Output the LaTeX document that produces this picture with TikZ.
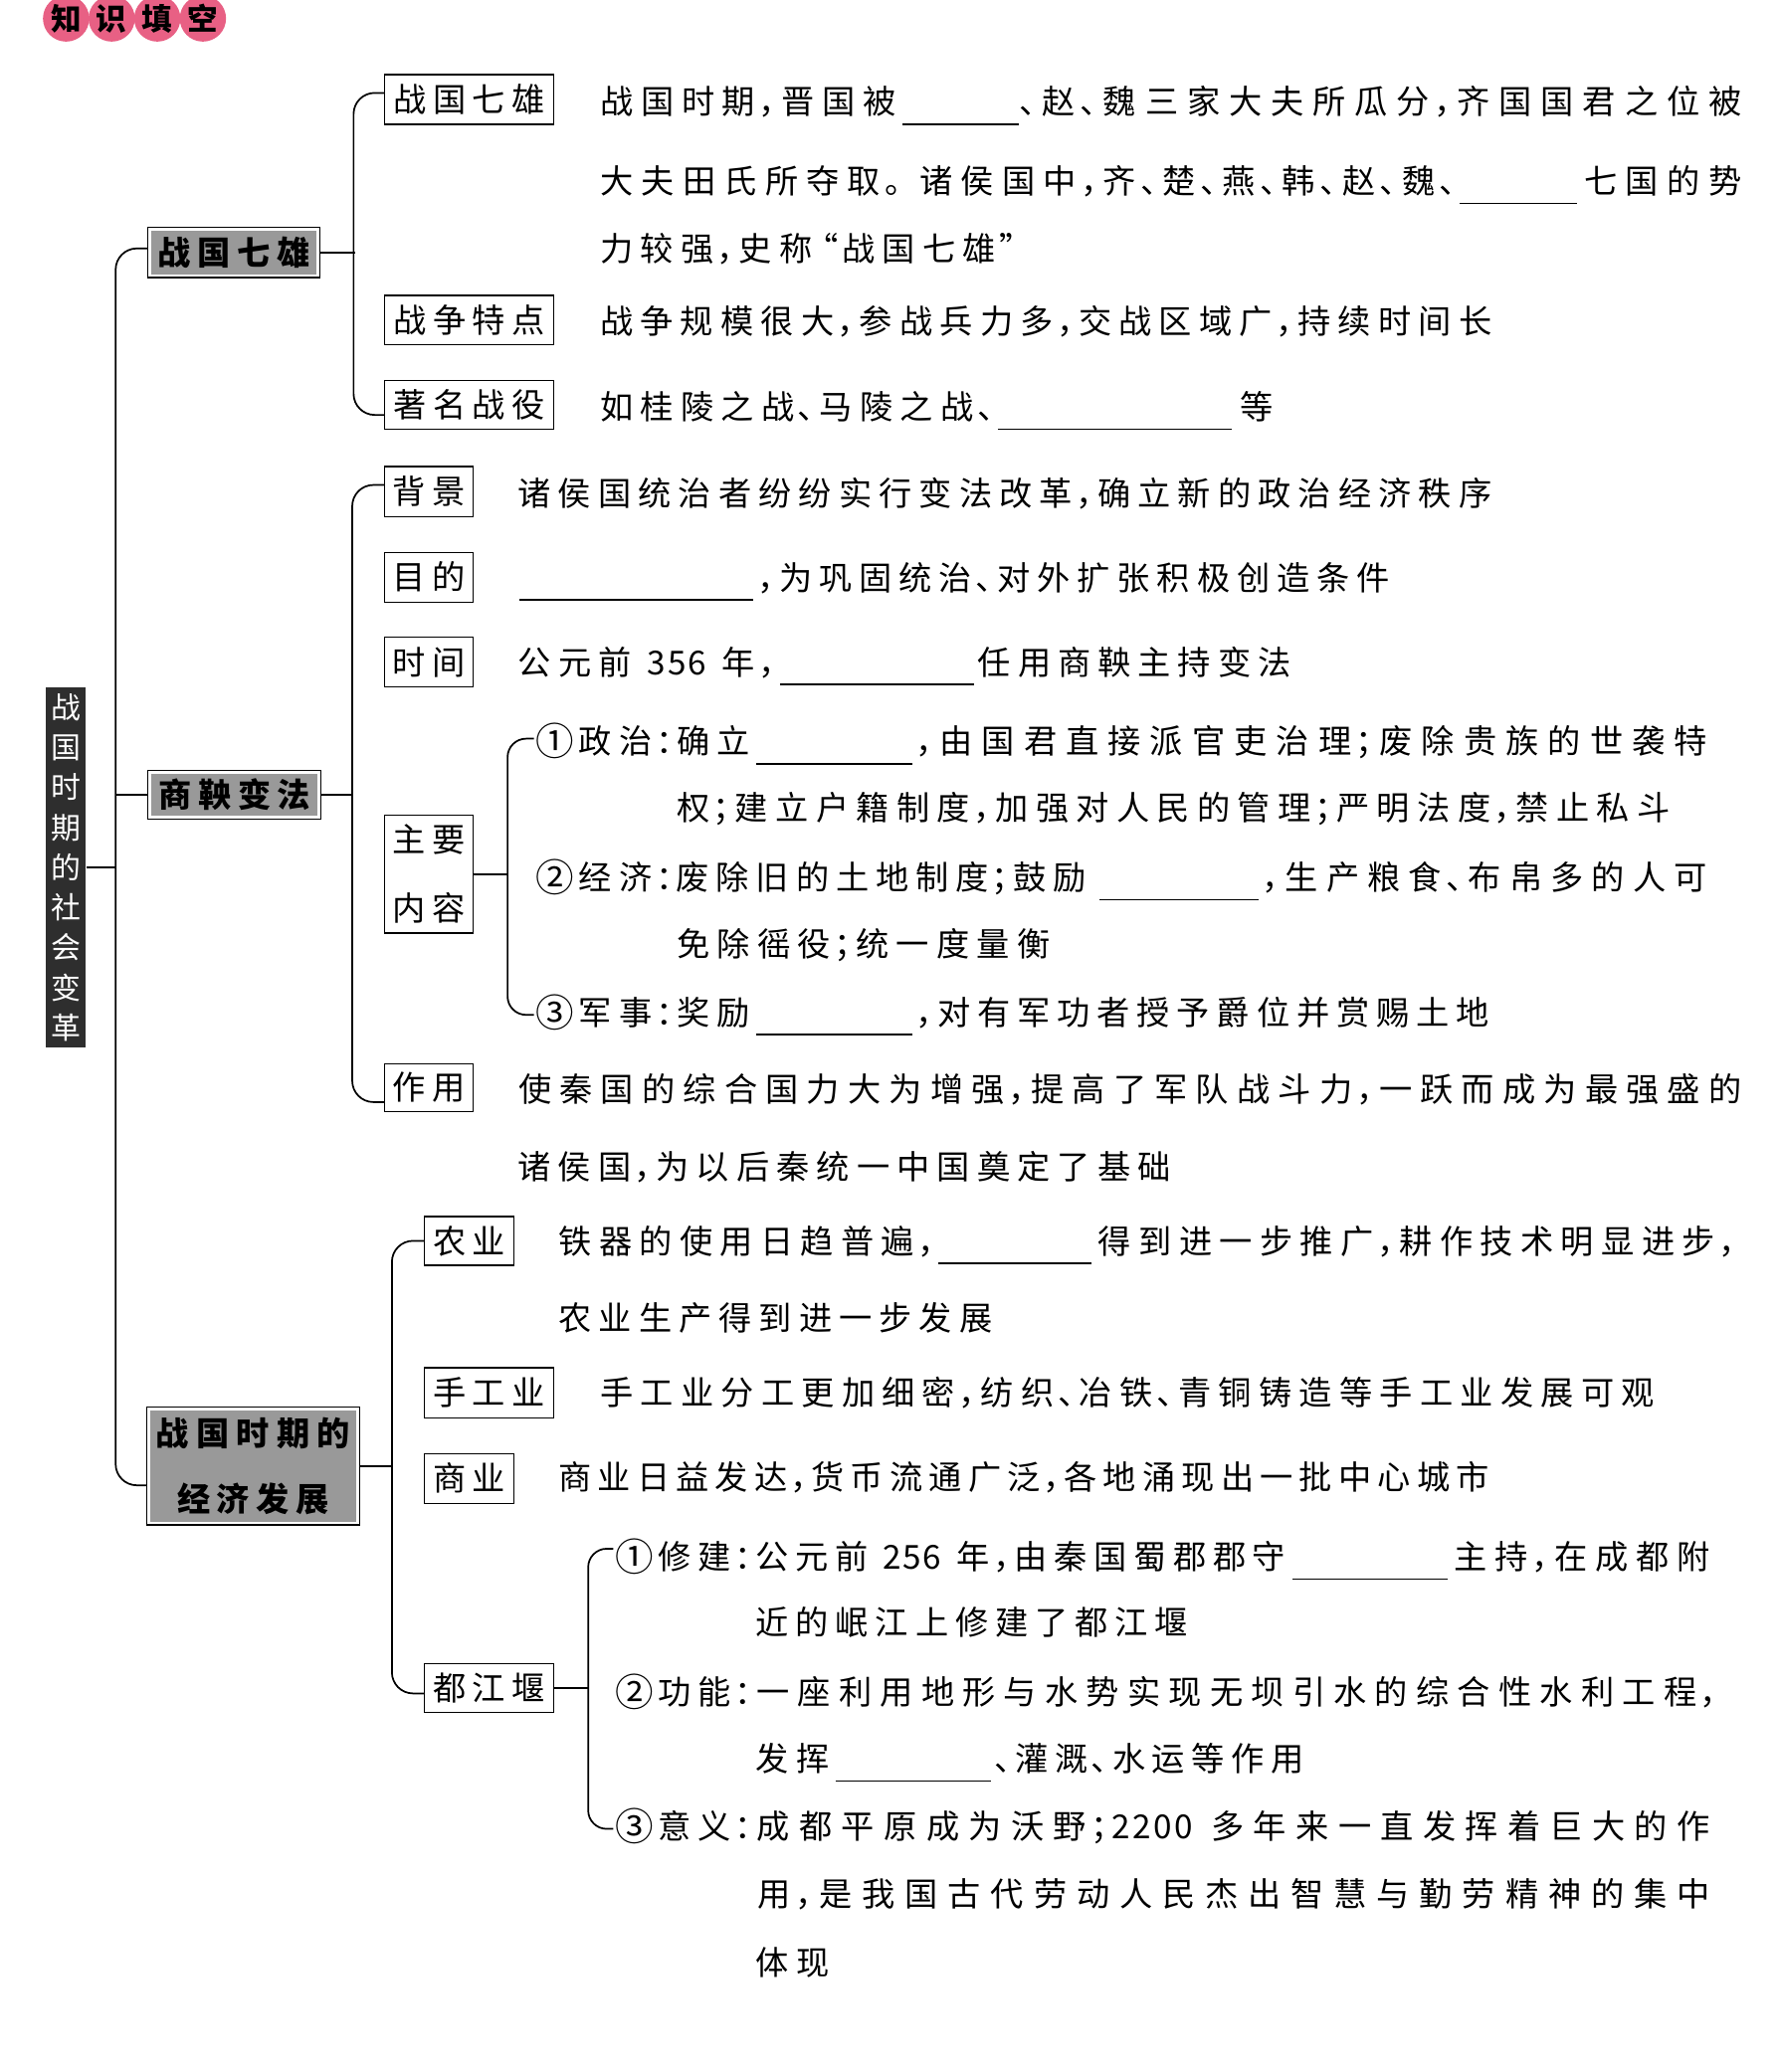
\documentclass[tikz,border=0pt]{standalone}
\usepackage{fontspec}
\setmainfont{Noto Sans CJK SC}
\usetikzlibrary{calc}
\definecolor{pinkc}{RGB}{232,96,132}
\newlength\pitch
\setlength\pitch{30.5pt}
\makeatletter
\def\T#1{\T@#1\relax}
\def\T@#1{\ifx\relax#1\else\T@c{#1}\expandafter\T@\fi}
\def\T@c#1{%
  \ifx|#1\hspace{0.28\pitch}%
  \else
    \ifcsname T@w@#1\endcsname
      \makebox[\csname T@w@#1\endcsname\pitch][\csname T@a@#1\endcsname]{#1}%
    \else
      \makebox[\pitch][c]{#1}%
    \fi
  \fi}
\def\T@def#1#2#3{\@namedef{T@w@#1}{#2}\@namedef{T@a@#1}{#3}}
\T@def{，}{0.45}{l}\T@def{、}{0.45}{l}\T@def{；}{0.45}{l}\T@def{：}{0.5}{l}
\T@def{。}{0.75}{l}\T@def{“}{0.55}{r}\T@def{”}{0.55}{l}
\T@def{0}{0.5}{c}\T@def{1}{0.5}{c}\T@def{2}{0.5}{c}\T@def{3}{0.5}{c}\T@def{4}{0.5}{c}
\T@def{5}{0.5}{c}\T@def{6}{0.5}{c}\T@def{7}{0.5}{c}\T@def{8}{0.5}{c}\T@def{9}{0.5}{c}
\makeatother
% fixed pitch segment: [pitch]{name}{x}{y}{text}
\newcommand\tseg[5][30.5pt]{\node[seg] (#2) at ({#3-4},#4) {\setlength\pitch{#1}\T{#5}};}
% fitted segment: {name}{x0}{x1}{y}{text}
\newcommand\jseg[5]{\node[seg] (#1) at ({#2-4},#4) {\setlength\pitch{10pt}\setbox0\hbox{\T{#5}}%
  \pgfmathsetmacro\jp{(#3-#2-7)/(\the\wd0/10-0.5)}\setlength\pitch{\jp pt}\T{#5}};}
% numbered label: {name}{x}{y}{mark}{text}
\newcommand\lab[5]{\node[seg] (#1) at ({#2-4},#3) {\makebox[31pt][c]{\raisebox{-1.5pt}{\fontsize{29}{29}\selectfont #4}}\setlength\pitch{30.5pt}\T{#5}};}
\newcommand\fillin[3]{\draw[blankln] (#1,#3) -- (#2,#3);}
\tikzset{
  conn/.style={line width=1.3pt, line join=round},
  blankln/.style={line width=1.1pt},
  seg/.style={anchor=west, inner sep=0pt, text height=21pt, text depth=2pt, font=\fontsize{25}{28}\selectfont},
  subbox/.style={draw, line width=1pt, inner sep=0pt, font=\fontsize{25}{28}\selectfont},
  topbox/.style={draw, line width=1pt, inner sep=0pt, fill=white, font=\bfseries\fontsize{25}{28}\selectfont,
    path picture={\fill[black!40] ([shift={(2.5pt,2.5pt)}]path picture bounding box.south west) rectangle ([shift={(-2.5pt,-2.5pt)}]path picture bounding box.north east);}},
  hcirc/.style={circle, fill=pinkc, minimum size=35pt, inner sep=0pt, font=\bfseries\fontsize{23}{23}\selectfont},
  one/.style={text height=21pt, text depth=2pt},
}
\begin{document}
\begin{tikzpicture}[x=1pt,y=-1pt]
\useasboundingbox[fill=white] (0,0) rectangle (1346,1568);
% header
\node[hcirc] (h1) at (50,14) {知};
\node[hcirc] (h2) at (84.5,14) {识};
\node[hcirc] (h3) at (119,14) {填};
\node[hcirc] (h4) at (153.5,14) {空};
% root
\node[fill=black!82, text=white, minimum width=30pt, minimum height=273pt, inner sep=0pt, align=center,
  font=\fontsize{22.5}{30.3}\selectfont] (root) at (50,656.5) {战\\国\\时\\期\\的\\社\\会\\变\\革};
% level 1
\node[topbox, one, minimum width=130pt, minimum height=38pt] (A) at (177,191) {\setlength\pitch{30pt}\T{战国七雄}};
\node[topbox, one, minimum width=131pt, minimum height=37pt] (B) at (177.5,601.5) {\setlength\pitch{30pt}\T{商鞅变法}};
\node[topbox, minimum width=161pt, minimum height=89pt, align=center, font=\bfseries\fontsize{25}{50}\selectfont] (C) at (191.5,1109.5) {\setlength\pitch{30.5pt}\T{战国时期的}\\\setlength\pitch{30pt}\T{经济发展}};
% main bracket
\coordinate (mb) at (88,656.5);
\draw[conn] (root.east) -- (mb);
\draw[conn, rounded corners=16pt] ([yshift=3pt]A.west) -- ++(-24,0) |- ([yshift=-14.5pt]C.west);
\draw[conn] (B.west) -- (B.west -| mb);

% ===== section A =====
\node[subbox, one, minimum width=128pt, minimum height=37.5pt] (A1) at (355,75.3) {\setlength\pitch{30pt}\T{战国七雄}};
\node[subbox, one, minimum width=128pt, minimum height=37.5pt] (A2) at (355,242.3) {\setlength\pitch{30pt}\T{战争特点}};
\node[subbox, one, minimum width=128pt, minimum height=37pt] (A3) at (355,306.5) {\setlength\pitch{30pt}\T{著名战役}};
\draw[conn] (A.east) -- ++(26,0);
\draw[conn, rounded corners=16pt] ([yshift=5pt]A1.west) -- ++(-23,0) |- ([yshift=-7.5pt]A3.west);

\jseg{a1}{455}{676}{77}{战国时期，晋国被}
\fillin{683}{771}{94}
\jseg{a1b}{775}{1316}{77}{、赵、魏三家大夫所瓜分，齐国国君之位被}
\jseg{a2}{455}{1084}{137}{大夫田氏所夺取。诸侯国中，齐、楚、燕、韩、赵、魏}
\tseg{a2p}{1093}{137}{、}
\fillin{1104}{1193}{154}
\jseg{a2b}{1199}{1316}{137}{七国的势}
\tseg{a3}{455}{188}{力较强，史称“战国七雄”}
\jseg{a4}{455}{1127}{243}{战争规模很大，参战兵力多，交战区域广，持续时间长}
\tseg{a5}{455}{308}{如桂陵之战、马陵之战、}
\fillin{755}{932}{325}
\tseg{a5b}{939}{308}{等}

% ===== section B =====
\node[subbox, one, minimum width=67pt, minimum height=38pt] (B1) at (324.5,372) {\setlength\pitch{30pt}\T{背景}};
\node[subbox, one, minimum width=67pt, minimum height=37.5pt] (B2) at (324.5,436.8) {\setlength\pitch{30pt}\T{目的}};
\node[subbox, one, minimum width=67pt, minimum height=38pt] (B3) at (324.5,501) {\setlength\pitch{30pt}\T{时间}};
\node[subbox, minimum width=67pt, minimum height=89pt, align=center, font=\fontsize{25}{52}\selectfont] (B4) at (324.5,661.5) {\setlength\pitch{30pt}\T{主要}\\\setlength\pitch{30pt}\T{内容}};
\node[subbox, one, minimum width=67pt, minimum height=36pt] (B5) at (324.5,823) {\setlength\pitch{30pt}\T{作用}};
\draw[conn] (B.east) -- ++(24,0);
\draw[conn, rounded corners=16pt] ([yshift=5pt]B1.west) -- ++(-24,0) |- ([yshift=-11pt]B5.west);

\jseg{b1}{393}{1127}{373}{诸侯国统治者纷纷实行变法改革，确立新的政治经济秩序}
\fillin{393}{570}{454}
\jseg{b2}{577}{1050}{437}{，为巩固统治、对外扩张积极创造条件}
\tseg{b3}{393}{501}{公元前|356|年，}
\fillin{590}{737}{518}
\jseg{b3b}{741}{975}{501}{任用商鞅主持变法}

\lab{b4p1}{408}{561}{①}{政治：}
\tseg{b41b}{513}{561}{确立}
\fillin{572}{690}{578}
\jseg{b41c}{697}{1290}{561}{，由国君直接派官吏治理；废除贵族的世袭特}
\jseg{b42}{513}{1262}{611}{权；建立户籍制度，加强对人民的管理；严明法度，禁止私斗}
\lab{b4p2}{408}{664}{②}{经济：}
\jseg{b43b}{513}{820}{664}{废除旧的土地制度；鼓励}
\fillin{832}{952}{681}
\jseg{b43c}{959}{1290}{664}{，生产粮食、布帛多的人可}
\jseg{b44}{513}{793}{714}{免除徭役；统一度量衡}
\lab{b4p3}{408}{766}{③}{军事：}
\tseg{b45b}{513}{766}{奖励}
\fillin{572}{690}{783}
\jseg{b45c}{697}{1125}{766}{，对有军功者授予爵位并赏赐土地}
\draw[conn] (B4.east) -- ++(26,0);
\draw[conn, rounded corners=14pt] ([yshift=2pt]b4p1.west) -- ++(-20,0) |- ([yshift=-2pt]b4p3.west);

\jseg{b5}{393}{1316}{824}{使秦国的综合国力大为增强，提高了军队战斗力，一跃而成为最强盛的}
\jseg{b5b}{393}{884}{883}{诸侯国，为以后秦统一中国奠定了基础}

% ===== section C =====
\node[subbox, one, minimum width=68pt, minimum height=37pt] (C1) at (355,939) {\setlength\pitch{30pt}\T{农业}};
\node[subbox, one, minimum width=98pt, minimum height=38pt] (C2) at (370,1054) {\setlength\pitch{30pt}\T{手工业}};
\node[subbox, one, minimum width=68pt, minimum height=37.5pt] (C3) at (355,1118.8) {\setlength\pitch{30pt}\T{商业}};
\node[subbox, one, minimum width=98pt, minimum height=37pt] (C4) at (370,1277.5) {\setlength\pitch{30pt}\T{都江堰}};
\draw[conn] (C.east) -- ++(25,0);
\draw[conn, rounded corners=16pt] (C1.west) -- ++(-24,0) |- ([yshift=-4pt]C4.west);

\tseg{c1}{424}{939}{铁器的使用日趋普遍，}
\fillin{710}{826}{956}
\jseg{c1b}{832}{1296}{939}{得到进一步推广，耕作技术明显进步}
\tseg{c1p}{1304}{939}{，}
\jseg{c1c}{424}{749}{997}{农业生产得到进一步发展}
\jseg{c2}{455}{1250}{1054}{手工业分工更加细密，纺织、冶铁、青铜铸造等手工业发展可观}
\jseg{c3}{424}{1125}{1118}{商业日益发达，货币流通广泛，各地涌现出一批中心城市}

\lab{c4p1}{468}{1178}{①}{修建：}
\jseg{c41b}{573}{971}{1178}{公元前|256|年，由秦国蜀郡郡守}
\fillin{978}{1095}{1195}
\jseg{c41c}{1101}{1292}{1178}{主持，在成都附}
\jseg{c42}{573}{897}{1228}{近的岷江上修建了都江堰}
\lab{c4p2}{468}{1280}{②}{功能：}
\jseg{c43b}{573}{1282}{1280}{一座利用地形与水势实现无坝引水的综合性水利工程}
\tseg{c43p}{1290}{1280}{，}
\tseg{c44}{573}{1331}{发挥}
\fillin{632}{750}{1348}
\jseg{c44b}{756}{985}{1331}{、灌溉、水运等作用}
\lab{c4p3}{468}{1382}{③}{意义：}
\jseg{c45b}{573}{1292}{1382}{成都平原成为沃野；2200|多年来一直发挥着巨大的作}
\jseg{c46}{573}{1292}{1433}{用，是我国古代劳动人民杰出智慧与勤劳精神的集中}
\tseg{c47}{573}{1485}{体现}
\draw[conn] (C4.east) -- ++(26,0);
\draw[conn, rounded corners=14pt] ([yshift=6pt]c4p1.west) -- ++(-19,0) |- ([yshift=-2pt]c4p3.west);
\end{tikzpicture}
\end{document}
